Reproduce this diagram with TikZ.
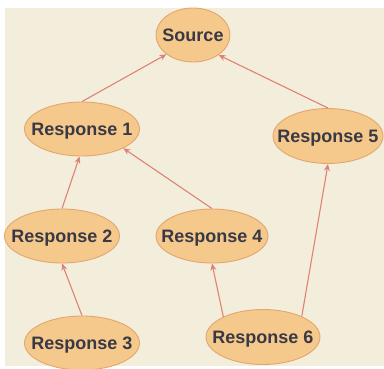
\documentclass[tikz,border=0pt]{standalone}
\usepackage{fontspec}
\setmainfont{Liberation Sans}
\usetikzlibrary{shapes.geometric,arrows.meta}
\definecolor{bgc}{HTML}{F3EEDC}
\definecolor{nodefill}{HTML}{F5C88C}
\definecolor{nodeline}{HTML}{E3A66C}
\definecolor{arrowc}{HTML}{E08272}
\definecolor{txt}{HTML}{393945}
\newcommand\lab[1]{\makebox[0pt]{\raisebox{-0.36em}[0pt][0pt]{#1}}}
\tikzset{
  resp/.style={ellipse, inner sep=0pt, fill=nodefill, draw=nodeline, line width=0.9pt,
    minimum width=115pt, minimum height=54pt, text=txt,
    font=\fontsize{18}{20}\selectfont\bfseries},
  conn/.style={draw=arrowc, line width=1.1pt, -{Stealth[length=7pt,width=6pt]}}
}
\begin{document}
\begin{tikzpicture}[x=1pt,y=-1pt]
\useasboundingbox (0,0) rectangle (384,368);
\fill[white] (0,0) rectangle (384,368);
\fill[bgc] (5,8) rectangle (384,366);
\node[resp, minimum width=74pt] (src) at (193,35) {\lab{Source}};
\node[resp] (r1) at (82,129) {\lab{Response 1}};
\node[resp, minimum width=110pt, minimum height=55pt] (r5) at (328,136) {\lab{Response 5}};
\node[resp] (r2) at (62,236) {\lab{Response 2}};
\node[resp, minimum width=112pt] (r4) at (212,236) {\lab{Response 4}};
\node[resp] (r3) at (82,343) {\lab{Response 3}};
\node[resp, minimum width=114pt, minimum height=55pt] (r6) at (263,337) {\lab{Response 6}};
\draw[conn] (r1.north) -- (src.216);
\draw[conn] (r5.north) -- (src.322);
\draw[conn] (r2.north) -- (r1.265);
\draw[conn] (r4.north) -- (r1.335);
\draw[conn] (r3.north) -- (r2.south);
\draw[conn] (r6.153) -- (r4.south);
\draw[conn] (r6.28) -- (r5.south);
\end{tikzpicture}
\end{document}
